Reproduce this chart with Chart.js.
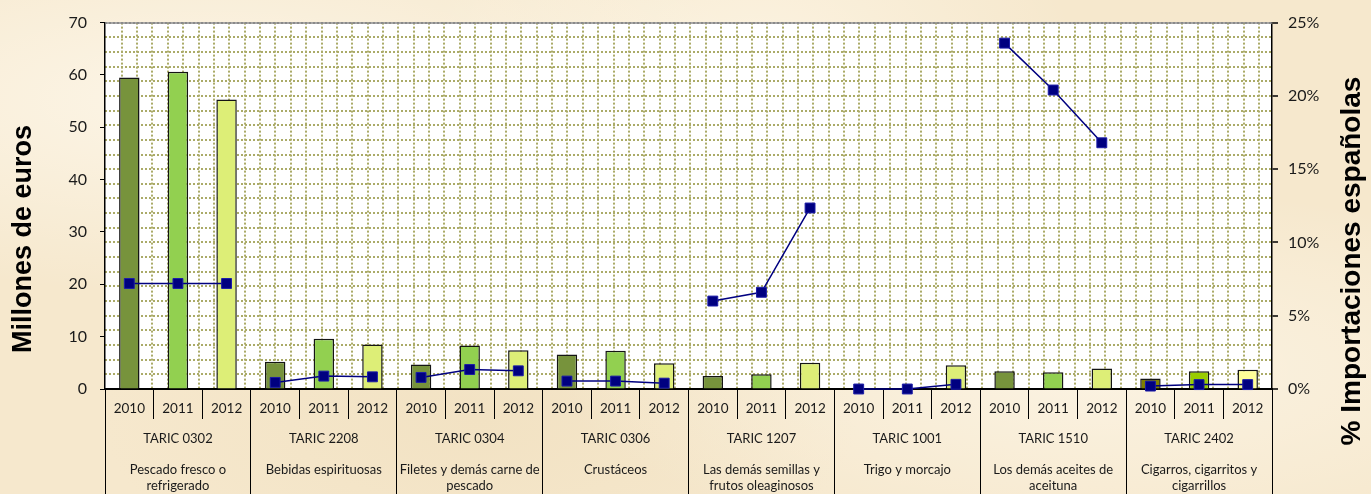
<!DOCTYPE html>
<html>
<head>
<meta charset="utf-8">
<script src="https://cdn.jsdelivr.net/npm/chart.js@4.4.0/dist/chart.umd.min.js"></script>
<style>
  html, body { margin: 0; padding: 0; overflow: hidden; }
  body {
    width: 1371px; height: 494px;
    background-color: #f6e8cd;
    background-image:
      radial-gradient(ellipse at 15% 20%, rgba(255,251,242,0.7), transparent 35%),
      radial-gradient(ellipse at 55% 10%, rgba(255,249,236,0.6), transparent 30%),
      radial-gradient(ellipse at 80% 75%, rgba(255,250,240,0.6), transparent 35%),
      radial-gradient(ellipse at 35% 85%, rgba(238,220,185,0.5), transparent 30%);
  }
  #wrap { width: 1371px; height: 505px; }
</style>
</head>
<body>
<div id="wrap"><canvas id="chart" width="1371" height="505"></canvas></div>
<script>
const years = ['2010', '2011', '2012'];
const taricCodes = ['TARIC 0302', 'TARIC 2208', 'TARIC 0304', 'TARIC 0306',
  'TARIC 1207', 'TARIC 1001', 'TARIC 1510', 'TARIC 2402'];
const descriptions = [
  ['Pescado fresco o', 'refrigerado'],
  ['Bebidas espirituosas'],
  ['Filetes y demás carne de', 'pescado'],
  ['Crustáceos'],
  ['Las demás semillas y', 'frutos oleaginosos'],
  ['Trigo y morcajo'],
  ['Los demás aceites de', 'aceituna'],
  ['Cigarros, cigarritos y', 'cigarrillos']
];
// millones de euros, 3 years per TARIC code
const millonesEuros = [59.5, 60.6, 55.3, 5.2, 9.6, 8.5, 4.7, 8.3, 7.4, 6.6, 7.3, 4.9,
  2.5, 2.8, 5.0, 0, 0, 4.55, 3.4, 3.2, 3.9, 2.0, 3.4, 3.7];
// % de importaciones españolas
const cuotaImport = [7.2, 7.2, 7.2, 0.45, 0.88, 0.83, 0.79, 1.33, 1.24, 0.54, 0.54, 0.4,
  6.0, 6.6, 12.35, 0, 0, 0.32, 23.6, 20.4, 16.8, 0.2, 0.3, 0.3];
const leftTitle = 'Millones de euros';
const rightTitle = '% Importaciones españolas';

const yearLabels = taricCodes.flatMap(() => years);
const groupLabels = taricCodes.map((c, i) => [c, '', ...descriptions[i]]);

const barColors = ['#77933c', '#92d050', '#ddee77'];
const lastGroupColors = ['#808000', '#99cc00', '#ffff99'];
const navy = '#000080';
const gridOlive = '#abab68';
const txt = '#1a1a1a';

const groupOf = i => Math.floor(i / 3);

const plotBackground = {
  id: 'plotBackground',
  beforeDraw(chart) {
    const {ctx, chartArea: a} = chart;
    ctx.save();
    ctx.fillStyle = '#ffffff';
    ctx.fillRect(a.left, a.top, a.right - a.left, a.bottom - a.top);
    // dotted vertical pattern of the plot area
    ctx.strokeStyle = gridOlive;
    ctx.lineWidth = 2;
    ctx.setLineDash([2, 2]);
    for (let x = a.left + 16.7; x < a.right - 2; x += 15.37) {
      const px = Math.round(x);
      ctx.beginPath();
      ctx.moveTo(px, a.top);
      ctx.lineTo(px, a.bottom);
      ctx.stroke();
    }
    ctx.restore();
  },
  beforeDatasetsDraw(chart) {
    const {ctx, chartArea: a} = chart;
    ctx.save();
    ctx.strokeStyle = '#8a8a8a';
    ctx.lineWidth = 1.5;
    ctx.beginPath();
    ctx.moveTo(a.left, a.top + 0.5);
    ctx.lineTo(a.right, a.top + 0.5);
    ctx.stroke();
    ctx.restore();
  }
};

const axisTitles = {
  id: 'axisTitles',
  afterDraw(chart) {
    const {ctx} = chart;
    ctx.save();
    ctx.fillStyle = '#000';
    ctx.textAlign = 'center';
    ctx.textBaseline = 'middle';
    ctx.font = 'bold 27px "Liberation Sans", Arial, sans-serif';
    ctx.translate(24, 239);
    ctx.rotate(-Math.PI / 2);
    ctx.fillText(leftTitle, 0, 0);
    ctx.restore();
    ctx.save();
    ctx.fillStyle = '#000';
    ctx.textAlign = 'center';
    ctx.textBaseline = 'middle';
    ctx.font = 'bold 28px "Liberation Sans", Arial, sans-serif';
    ctx.translate(1352, 261);
    ctx.rotate(-Math.PI / 2);
    ctx.fillText(rightTitle, 0, 0);
    ctx.restore();
  }
};

new Chart(document.getElementById('chart'), {
  data: {
    labels: yearLabels,
    datasets: [
      {
        type: 'line',
        label: rightTitle,
        data: cuotaImport,
        yAxisID: 'y1',
        xAxisID: 'x',
        borderColor: navy,
        borderWidth: 1.5,
        pointStyle: 'rect',
        pointRadius: 7,
        pointBackgroundColor: navy,
        pointBorderColor: '#1c1ca8',
        pointBorderWidth: 1,
        clip: false,
        order: 0,
        segment: {
          borderColor: c => groupOf(c.p0DataIndex) === groupOf(c.p1DataIndex) ? navy : 'transparent'
        }
      },
      {
        type: 'bar',
        label: leftTitle,
        data: millonesEuros,
        yAxisID: 'y',
        xAxisID: 'x',
        backgroundColor: c => (groupOf(c.dataIndex) === 7 ? lastGroupColors : barColors)[c.dataIndex % 3],
        borderColor: '#141414',
        borderWidth: 1.5,
        barPercentage: 0.42,
        categoryPercentage: 1,
        order: 1
      }
    ]
  },
  options: {
    responsive: false,
    animation: false,
    devicePixelRatio: 1,
    layout: { padding: { top: 20, left: 0, right: 0, bottom: 0 } },
    plugins: { legend: { display: false }, tooltip: { enabled: false } },
    scales: {
      x: {
        type: 'category',
        position: 'bottom',
        weight: 0,
        offset: true,
        grid: { drawOnChartArea: false, offset: true, tickLength: 30, color: '#000', lineWidth: 1 },
        border: { color: '#000', width: 2 },
        ticks: { autoSkip: false, maxRotation: 0, padding: -18, color: txt,
          font: { family: 'Lato, sans-serif', size: 13.5 } },
        afterFit: s => { s.height = 29; }
      },
      x2: {
        type: 'category',
        position: 'bottom',
        weight: 1,
        labels: groupLabels,
        offset: true,
        grid: { drawOnChartArea: false, offset: true, tickLength: 87, color: '#000', lineWidth: 1 },
        border: { display: false },
        ticks: { autoSkip: false, maxRotation: 0, padding: -74, color: txt,
          font: { family: 'Lato, sans-serif', size: 13, lineHeight: 1.2 } },
        afterFit: s => { s.height = 87; }
      },
      y: {
        position: 'left',
        min: 0, max: 70,
        grid: { drawOnChartArea: false, tickLength: 5, color: '#000' },
        border: { color: '#000', width: 1.5 },
        ticks: { stepSize: 10, padding: 13, color: txt,
          font: { family: 'Lato, sans-serif', size: 16 } },
        afterFit: s => { s.width = 105; }
      },
      y1: {
        position: 'right',
        min: 0, max: 25,
        grid: {
          drawOnChartArea: true,
          lineWidth: 2,
          tickLength: 6,
          color: c => c.tick && c.tick.value === 25 ? '#8a8a8a' : gridOlive,
          tickColor: c => c.tick && c.tick.value % 5 === 0 ? '#000' : 'transparent',
          tickWidth: 1.5
        },
        border: { color: '#000', width: 1.5, dash: [2, 2] },
        ticks: { stepSize: 1, autoSkip: false, padding: 10, color: txt,
          font: { family: 'Lato, sans-serif', size: 16 },
          callback: v => v % 5 === 0 ? v + '%' : '' },
        afterFit: s => { s.width = 99; }
      }
    }
  },
  plugins: [plotBackground, axisTitles]
});
</script>
</body>
</html>
